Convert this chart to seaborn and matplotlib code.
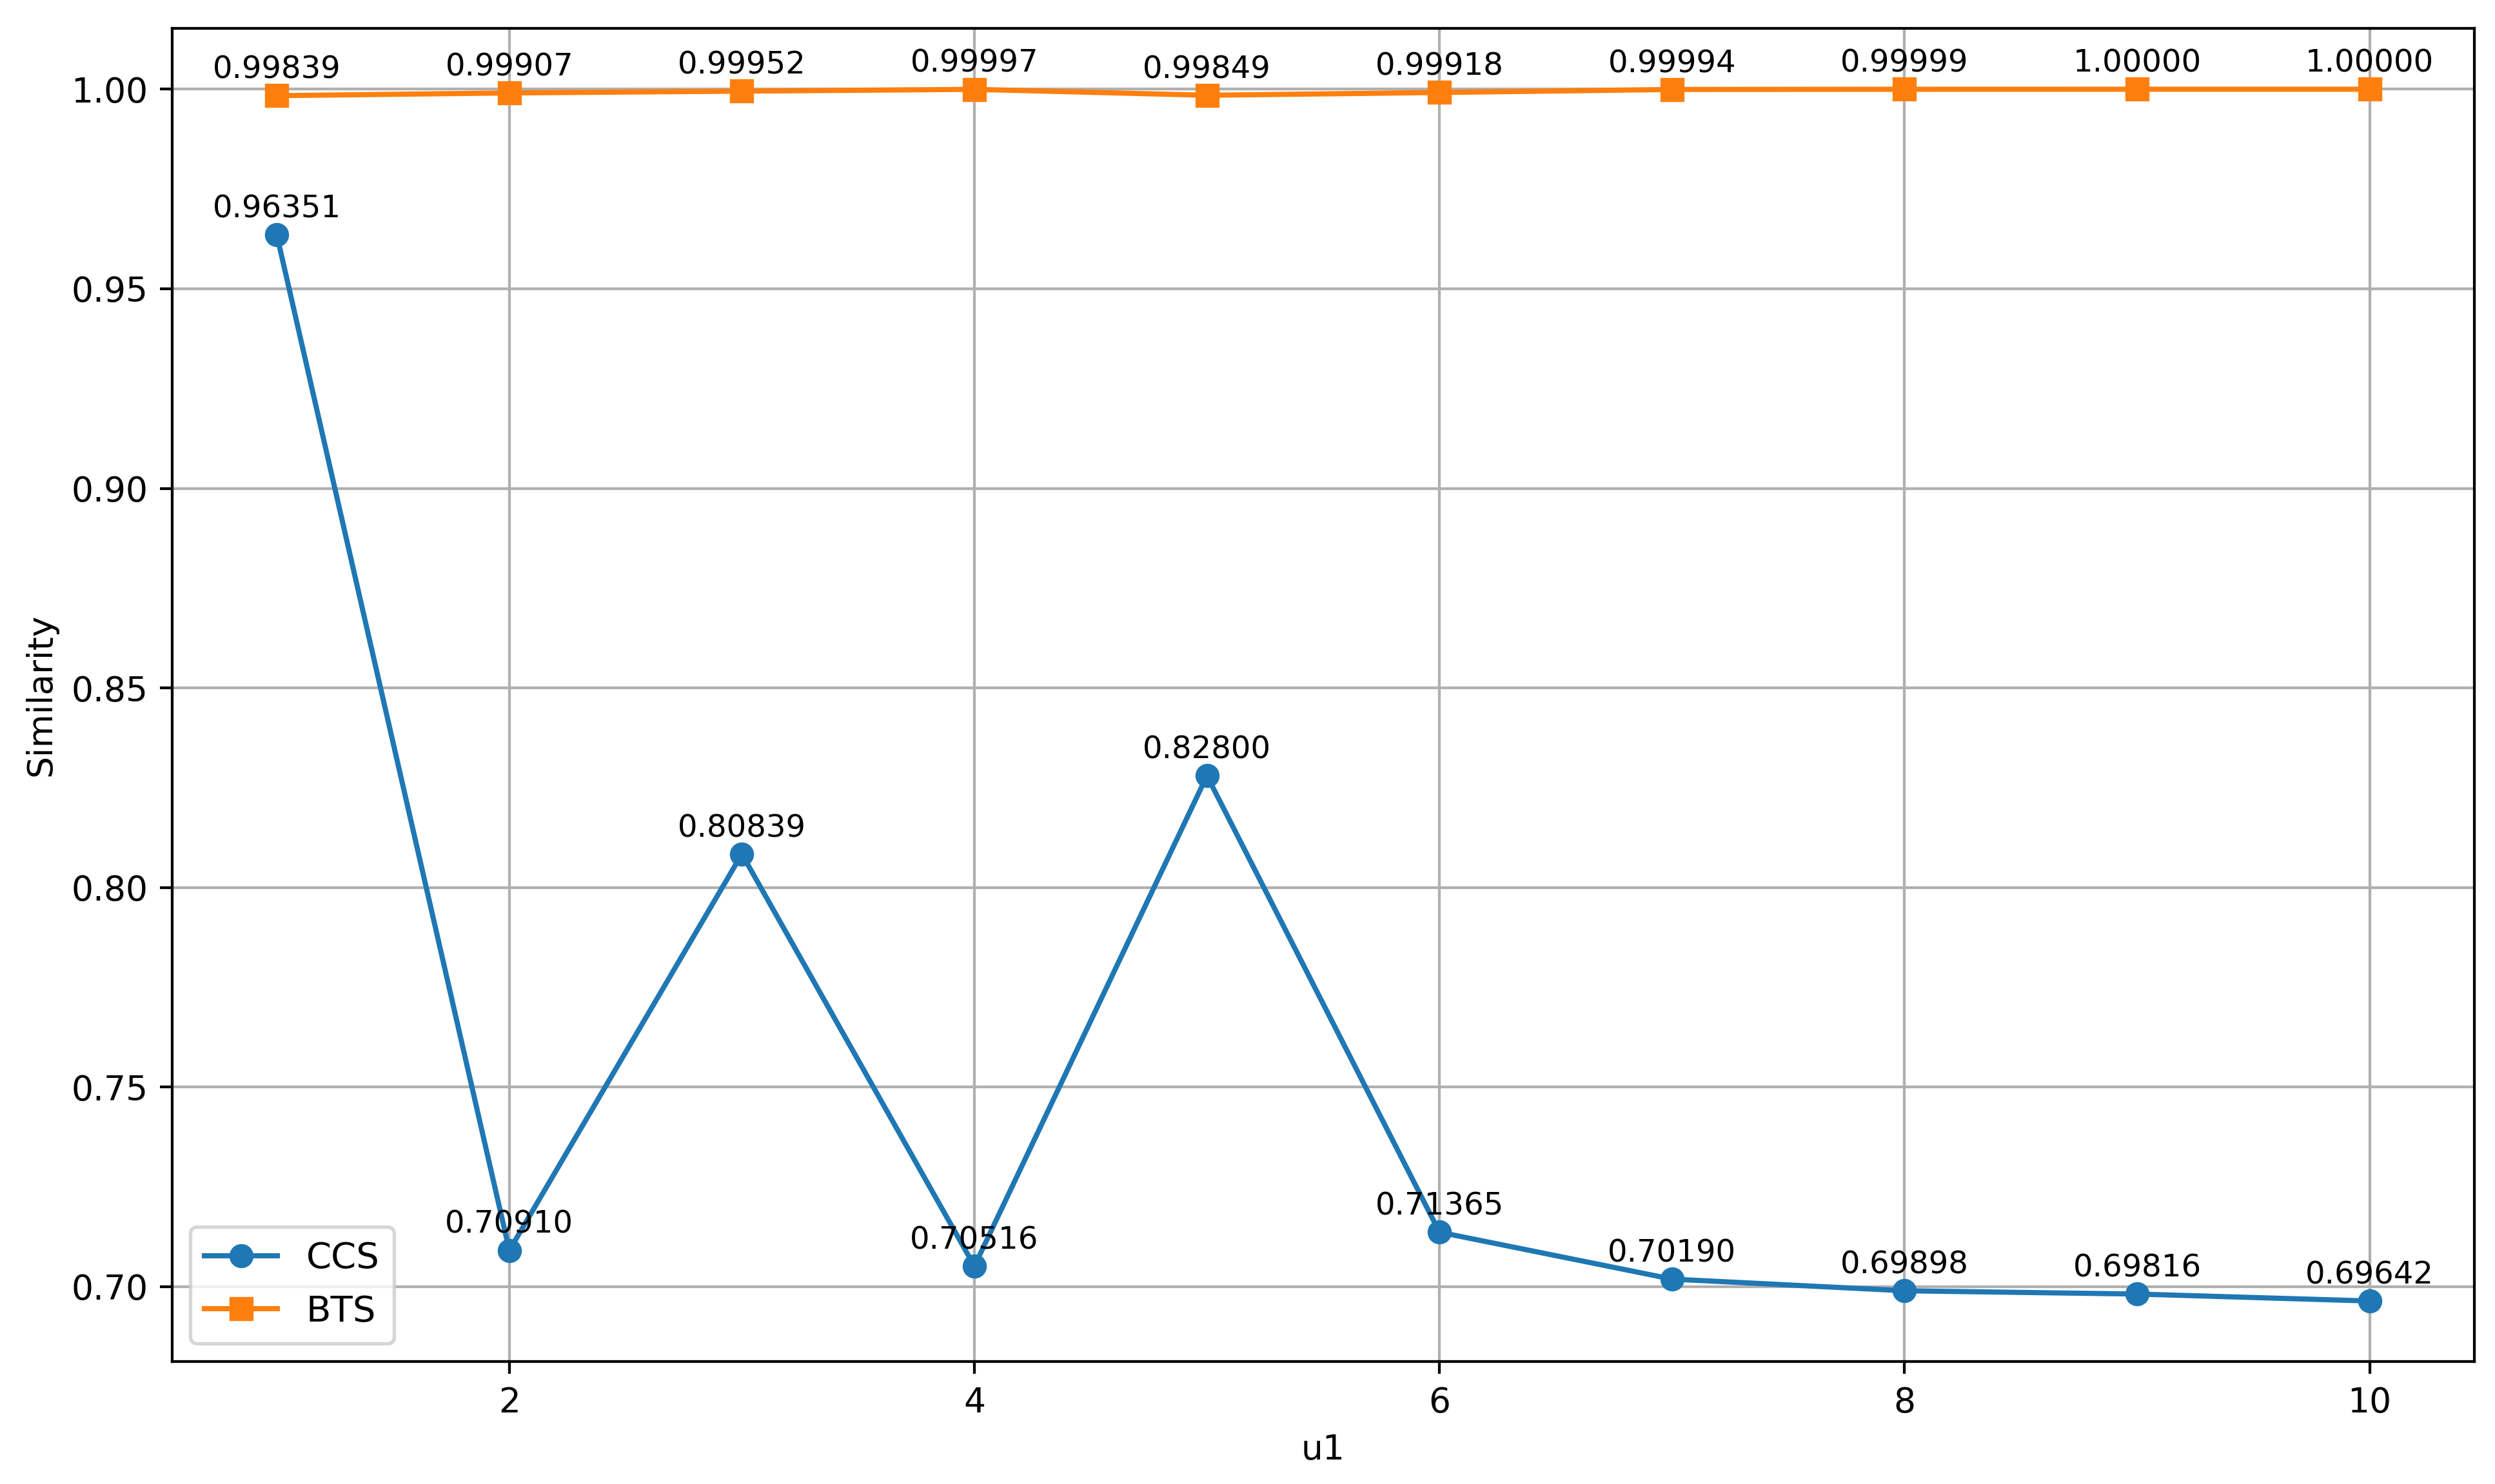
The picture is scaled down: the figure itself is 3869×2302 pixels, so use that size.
import matplotlib
matplotlib.use('Agg')
import pandas as pd
import seaborn as sns
import matplotlib.pyplot as plt

# данные с графика
u1 = [1, 2, 3, 4, 5, 6, 7, 8, 9, 10]
ccs = [0.96351, 0.70910, 0.80839, 0.70516, 0.82800, 0.71365, 0.70190, 0.69898, 0.69816, 0.69642]
bts = [0.99839, 0.99907, 0.99952, 0.99997, 0.99849, 0.99918, 0.99994, 0.99999, 1.00000, 1.00000]

df = pd.DataFrame({'u1': u1, 'CCS': ccs, 'BTS': bts})

fig = plt.figure(figsize=(3869 / 385, 2302 / 385), dpi=385)
ax = fig.add_subplot(111)
fig.subplots_adjust(left=0.069, right=0.9917, top=0.9807, bottom=0.0825)

sns.lineplot(x='u1', y='CCS', data=df, marker='o', label='CCS', color='#1f77b4',
             markeredgecolor='#1f77b4', markeredgewidth=1, markersize=6, ax=ax)
sns.lineplot(x='u1', y='BTS', data=df, marker='s', label='BTS', color='#ff7f0e',
             markeredgecolor='#ff7f0e', markeredgewidth=1, markersize=6, ax=ax)

#подписи значений над точками
for x, y in zip(u1, ccs):
    ax.annotate(f'{y:.5f}', (x, y), textcoords='offset points', xytext=(0, 5), ha='center', fontsize=9)
for x, y in zip(u1, bts):
    ax.annotate(f'{y:.5f}', (x, y), textcoords='offset points', xytext=(0, 5), ha='center', fontsize=9)

ax.set_xlabel('u1')
ax.set_ylabel('Similarity')
ax.grid(True)
ax.legend(loc='lower left', fontsize=10.5)

plt.savefig('out.png', dpi=385)
